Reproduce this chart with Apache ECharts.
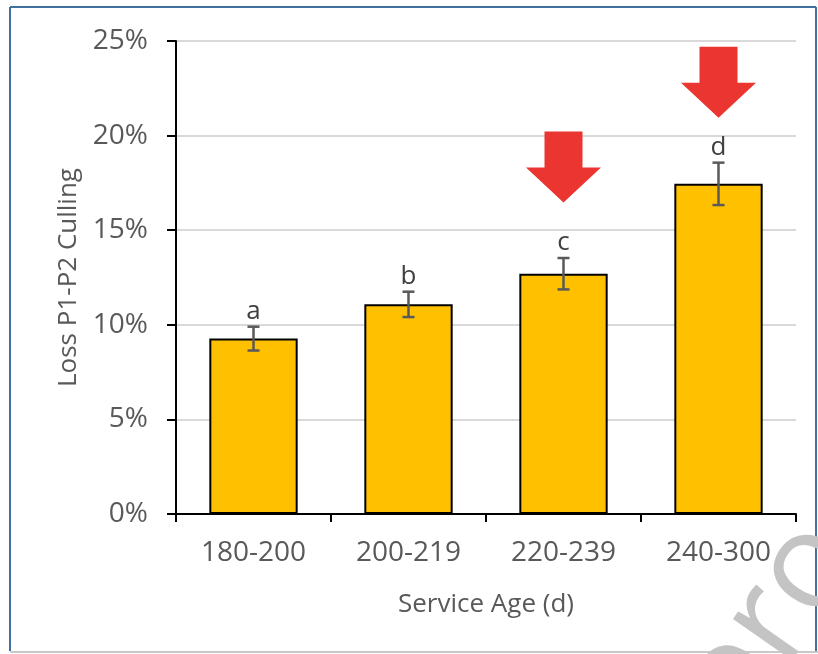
<!DOCTYPE html>
<html>
<head>
<meta charset="utf-8">
<script src="https://cdn.jsdelivr.net/npm/echarts@6/dist/echarts.min.js"></script>
<style>html,body{margin:0;padding:0;background:#fff;}#c{width:818px;height:654px;}</style>
</head>
<body>
<div id="c"></div>
<script>
var categories = ['180-200', '200-219', '220-239', '240-300'];
var values = [9.27, 11.08, 12.70, 17.45];
var errors = [0.63, 0.67, 0.83, 1.12];
var letters = ['a', 'b', 'c', 'd'];
var arrowCategories = ['220-239', '240-300'];
var arrowTips = [16.47, 20.95];
var yTicks = [0, 5, 10, 15, 20, 25];

var FONT = '"Open Sans", sans-serif';
var chart = echarts.init(document.getElementById('c'), null, {renderer: 'canvas'});

var errData = categories.map(function (c, i) { return [i, values[i], errors[i], letters[i]]; });
var arrowData = arrowCategories.map(function (c, i) { return [categories.indexOf(c), arrowTips[i]]; });

chart.setOption({
  animation: false,
  backgroundColor: '#fff',
  grid: {left: 176, right: 22, top: 41, bottom: 140},
  xAxis: {
    type: 'category',
    data: categories,
    name: 'Service Age (d)',
    nameLocation: 'middle',
    nameGap: 78,
    nameTextStyle: {fontFamily: FONT, fontSize: 26, color: '#595959'},
    axisLine: {lineStyle: {color: '#000', width: 2}},
    axisTick: {show: true, length: 8, inside: false, lineStyle: {color: '#000', width: 2}},
    axisLabel: {fontFamily: FONT, fontSize: 28, color: '#595959', margin: 25}
  },
  yAxis: {
    type: 'value',
    min: yTicks[0], max: yTicks[yTicks.length - 1], interval: 5,
    name: 'Loss P1-P2 Culling',
    nameLocation: 'middle',
    nameGap: 94,
    nameTextStyle: {fontFamily: FONT, fontSize: 26, color: '#595959'},
    axisLine: {show: true, lineStyle: {color: '#000', width: 2}},
    axisTick: {show: true, length: 9, lineStyle: {color: '#000', width: 2}},
    axisLabel: {fontFamily: FONT, fontSize: 28, color: '#595959', margin: 28, formatter: '{value}%'},
    splitLine: {lineStyle: {color: '#D9D9D9', width: 2}}
  },
  series: [
    {
      type: 'bar',
      data: values,
      barWidth: '57%',
      itemStyle: {color: '#FFC000', borderColor: '#000', borderWidth: 2},
      z: 2
    },
    {
      type: 'custom',
      data: errData,
      z: 5,
      renderItem: function (params, api) {
        var i = api.value(0), v = api.value(1), e = api.value(2);
        var top = api.coord([i, v + e]);
        var bot = api.coord([i, v - e]);
        var x = top[0], cw = 6;
        return {
          type: 'group',
          children: [
            {type: 'line', shape: {x1: x, y1: top[1], x2: x, y2: bot[1]}, style: {stroke: '#595959', lineWidth: 2.5}},
            {type: 'line', shape: {x1: x - cw, y1: top[1], x2: x + cw, y2: top[1]}, style: {stroke: '#595959', lineWidth: 2.5}},
            {type: 'line', shape: {x1: x - cw, y1: bot[1], x2: x + cw, y2: bot[1]}, style: {stroke: '#595959', lineWidth: 2.5}},
            {type: 'text', style: {x: x, y: top[1] - 2, text: letters[params.dataIndex], textAlign: 'center', textVerticalAlign: 'bottom', fontFamily: FONT, fontSize: 26, fill: '#404040'}}
          ]
        };
      }
    },
    {
      type: 'custom',
      data: arrowData,
      z: 6,
      renderItem: function (params, api) {
        var p = api.coord([api.value(0), api.value(1)]);
        var x = p[0], y = p[1];
        var hw = 37.5, sw = 19, hh = 35, sh = 36;
        return {
          type: 'polygon',
          shape: {points: [
            [x - sw, y - hh - sh], [x + sw, y - hh - sh], [x + sw, y - hh],
            [x + hw, y - hh], [x, y], [x - hw, y - hh], [x - sw, y - hh]
          ]},
          style: {fill: '#EA3530'}
        };
      }
    }
  ],
  graphic: [
    {type: 'line', shape: {x1: 10, y1: 7, x2: 10, y2: 651}, style: {stroke: '#41719C', lineWidth: 2}},
    {type: 'line', shape: {x1: 10, y1: 7, x2: 816, y2: 7}, style: {stroke: '#41719C', lineWidth: 2}},
    {type: 'line', shape: {x1: 816, y1: 7, x2: 816, y2: 651}, style: {stroke: '#41719C', lineWidth: 2}},
    {type: 'line', shape: {x1: 10, y1: 652, x2: 818, y2: 652}, style: {stroke: '#C8C8C8', lineWidth: 2}},
    {type: 'text', x: 762, y: 754, rotation: 0.96, z: 1,
     style: {text: 'pro', fontFamily: FONT, fontSize: 135, fill: '#C4C4C4', textAlign: 'left', textVerticalAlign: 'bottom'}}
  ]
});
</script>
</body>
</html>
